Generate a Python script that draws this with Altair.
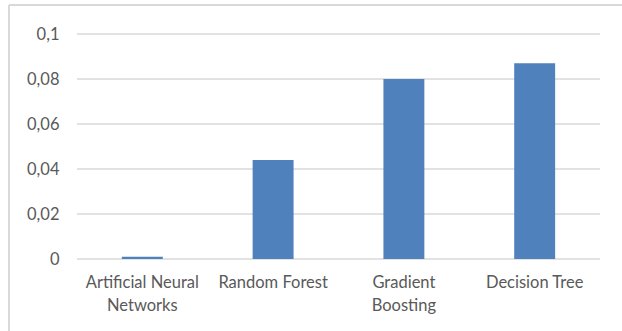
import altair as alt
import pandas as pd

# Model names and their scores
models = ["Artificial Neural Networks", "Random Forest", "Gradient Boosting", "Decision Tree"]
scores = [0.001, 0.044, 0.080, 0.087]
y_ticks = [0, 0.02, 0.04, 0.06, 0.08, 0.1]

df = pd.DataFrame({"model": models, "score": scores})
ticks_df = pd.DataFrame({"score": y_ticks})

FONT = "Lato"
FS = 16.5
GREY_TXT = "#595959"
GRID = "#d9d9d9"

label_expr = (
    "datum.value == 'Artificial Neural Networks' ? ['Artificial Neural', 'Networks'] : "
    "datum.value == 'Gradient Boosting' ? ['Gradient', 'Boosting'] : datum.value"
)

y_scale = alt.Scale(domain=[0, 0.1], nice=False)
y_axis = alt.Axis(
    values=y_ticks,
    labelExpr="replace(format(datum.value, '~g'), '.', ',')",
    labelFont=FONT,
    labelFontSize=FS,
    labelColor=GREY_TXT,
    labelPadding=18,
    ticks=False,
    domain=False,
    grid=False,
)

# Horizontal gridlines at each tick value
gridlines = alt.Chart(ticks_df).mark_rule(stroke=GRID, strokeWidth=1.5).encode(
    y=alt.Y("score:Q", title=None, scale=y_scale, axis=y_axis),
)

bars = alt.Chart(df).mark_bar(color="#4f81bd").encode(
    x=alt.X(
        "model:N",
        sort=models,
        title=None,
        scale=alt.Scale(paddingInner=0.687, paddingOuter=0.343),
        axis=alt.Axis(
            labelExpr=label_expr,
            labelAngle=0,
            labelFont=FONT,
            labelFontSize=FS,
            labelColor=GREY_TXT,
            labelPadding=15,
            labelLineHeight=23,
            ticks=False,
            domain=False,
            grid=False,
        ),
    ),
    y=alt.Y("score:Q", title=None, scale=y_scale, axis=y_axis),
)

# Outer frame around the whole chart: a top and a left rule
frame_top = alt.Chart(df).mark_rule(stroke=GRID, strokeWidth=1.5).encode(
    x=alt.value(-68),
    x2=alt.value(548),
    y=alt.value(-29),
)
frame_left = alt.Chart(df).mark_rule(stroke=GRID, strokeWidth=1.5).encode(
    x=alt.value(-68),
    y=alt.value(-29),
    y2=alt.value(302),
)

chart = alt.layer(frame_top, frame_left, gridlines, bars).properties(
    width=523,
    height=225,
    autosize=alt.AutoSizeParams(type="none"),
    padding={"left": 77, "top": 34, "right": 22, "bottom": 72},
    background="white",
).configure_view(strokeWidth=0, strokeOpacity=0)

chart.save("out.html", embed_options={"renderer": "svg", "actions": False})
